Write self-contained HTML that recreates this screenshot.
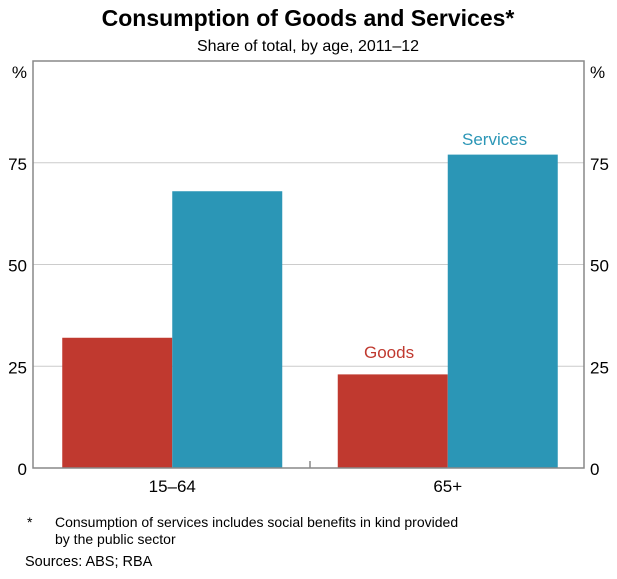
<!DOCTYPE html>
<html><head><meta charset="utf-8"><style>
body{margin:0;background:#fff;width:617px;height:579px;overflow:hidden;font-family:"Liberation Sans",Arial,sans-serif}
svg{display:block}
</style></head><body>
<svg id="chart" width="617" height="579">
<text x="308" y="26" text-anchor="middle" font-size="23" font-weight="bold" fill="#000">Consumption of Goods and Services*</text>
<text x="308" y="51" text-anchor="middle" font-size="16" fill="#000">Share of total, by age, 2011–12</text>
<g id="grid"></g>
<g id="bars"></g>
<rect x="33" y="61" width="551" height="407" fill="none" stroke="#888" stroke-width="1.5"/>
<g id="axes"></g>
<text x="364" y="358" font-size="17" fill="#c0392f">Goods</text>
<text x="462" y="145" font-size="17" fill="#2b96b6">Services</text>
<text x="27" y="527" font-size="14">*</text>
<text x="55" y="527" font-size="14">Consumption of services includes social benefits in kind provided</text>
<text x="55" y="544" font-size="14">by the public sector</text>
<text x="25" y="566" font-size="14.5">Sources:  ABS; RBA</text>
</svg>
<script>
const categories = ["15–64", "65+"];
const goods = [32, 23];
const services = [68, 77];
const ticks = [0, 25, 50, 75];

const NS = "http://www.w3.org/2000/svg";
const L = 33, R = 584, T = 61, B = 468;
const y = v => B - (B - T) * v / 100;
const band = (R - L) / categories.length;
const cx = i => L + band * (i + 0.5) + 1.5;
const bw = 110;
function mk(tag, attrs, parent, text) {
  const e = document.createElementNS(NS, tag);
  for (const k in attrs) e.setAttribute(k, attrs[k]);
  if (text !== undefined) e.textContent = text;
  document.getElementById(parent).appendChild(e);
  return e;
}
ticks.forEach(t => {
  if (t > 0) {
    const g = mk("line", {x1: L, x2: R, y1: y(t), y2: y(t), stroke: "#ccc", "stroke-width": 1}, "grid");
    
    
  }
  const a = mk("text", {x: 27, y: y(t) + 7, "text-anchor": "end", "font-size": 17}, "axes", String(t));
  
  
  const b = mk("text", {x: 590, y: y(t) + 7, "font-size": 17}, "axes", String(t));
  
  
});
const pl = mk("text", {x: 27, y: 78, "text-anchor": "end", "font-size": 17}, "axes", "%");


const pr = mk("text", {x: 590, y: 78, "font-size": 17}, "axes", "%");


for (let i = 1; i < categories.length; i++) {
  const d = mk("line", {x1: L + band * i + 1.5, x2: L + band * i + 1.5, y1: B, y2: B - 7, stroke: "#888", "stroke-width": 1.5}, "axes");
  
  
}
categories.forEach((c, i) => {
  const g = mk("rect", {x: cx(i) - bw, y: y(goods[i]), width: bw, height: B - y(goods[i]), fill: "#c0392f"}, "bars");
  
  
  const s = mk("rect", {x: cx(i), y: y(services[i]), width: bw, height: B - y(services[i]), fill: "#2b96b6"}, "bars");
  
  
  const t = mk("text", {x: cx(i), y: 492, "text-anchor": "middle", "font-size": 17}, "axes", c);
  
  
});
</script>
</body></html>
